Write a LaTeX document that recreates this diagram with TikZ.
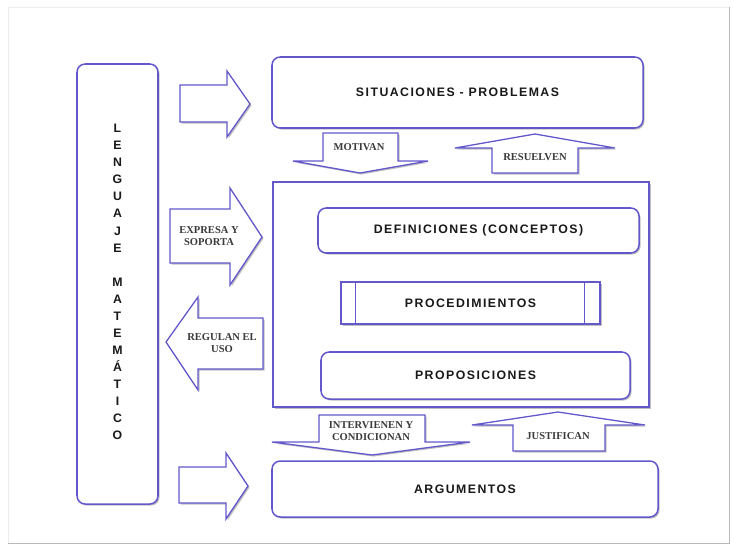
\documentclass[tikz,border=0pt]{standalone}
\usepackage{fontspec}
\setmainfont{Liberation Serif}
\newfontfamily\cajafont[LetterSpace=12]{Liberation Sans}
\newfontfamily\letrafont{Liberation Sans}
\usetikzlibrary{shadows}
\definecolor{borde}{RGB}{98,88,204}
\definecolor{texto}{RGB}{25,25,25}
\tikzset{
	sombra/.style={drop shadow={shadow xshift=1.3pt,shadow yshift=-1.3pt,opacity=.5}},
	caja/.style={draw=borde,line width=1.3pt,fill=white,rounded corners=7pt,sombra,inner sep=0pt,
		font=\cajafont\bfseries\fontsize{10.5}{12}\selectfont,text=texto},
	flecha/.style={draw=borde,line width=1.1pt,fill=white,sombra},
	etiqueta/.style={font=\bfseries\fontsize{9}{10.5}\selectfont,text=texto!85,align=center,inner sep=0pt},
}
\begin{document}
\begin{tikzpicture}[x=0.03cm,y=-0.03cm]
		\useasboundingbox (0,0) rectangle (734,547);
		\draw[gray!15] (8,543) -- (8,7) -- (729,7);
		\draw[gray!55] (8,543) -- (729,543) -- (729,7);
		
		\node[caja,minimum width=2.43cm,minimum height=13.2cm] (leng) at (117.5,284) {};
		\node[font=\letrafont\bfseries\fontsize{10.5}{14.55}\selectfont,text=texto,align=center] (lengtxt) at (117.5,282)
			{L\\E\\N\\G\\U\\A\\J\\E\\[14.55pt]M\\A\\T\\E\\M\\Á\\T\\I\\C\\O};
		
		\node[caja,minimum width=11.13cm,minimum height=2.13cm] (sit) at (457.5,92.5) {SITUACIONES - PROBLEMAS};
		\node[caja,rounded corners=0pt,line width=1pt,minimum width=11.28cm,minimum height=6.75cm] (marco) at (461,294.5) {};
		\node[caja,minimum width=9.63cm,minimum height=1.35cm] (def) at (478.5,230.5) {DEFINICIONES (CONCEPTOS)};
		\node[caja,rounded corners=0pt,line width=1pt,minimum width=7.77cm,minimum height=1.26cm] (proc) at (470.5,303) {PROCEDIMIENTOS};
		\draw[borde,line width=1pt] ([xshift=0.45cm]proc.north west) -- ([xshift=0.45cm]proc.south west);
		\draw[borde,line width=1pt] ([xshift=-0.48cm]proc.north east) -- ([xshift=-0.48cm]proc.south east);
		\node[caja,minimum width=9.27cm,minimum height=1.41cm] (prop) at (475.5,375.5) {PROPOSICIONES};
		\node[caja,minimum width=11.58cm,minimum height=1.68cm] (arg) at (465,489) {ARGUMENTOS};
		
		\draw[flecha] (180,85) -- (227,85) -- (227,71) -- (250,104) -- (227,137) -- (227,122) -- (180,122) -- cycle;
		\draw[flecha] (170,209) -- (230,209) -- (230,188) -- (262,237) -- (230,285) -- (230,263) -- (170,263) -- cycle;
		\draw[flecha] (166,342) -- (198,297) -- (198,318) -- (263,318) -- (263,369) -- (198,369) -- (198,390) -- cycle;
		\draw[flecha] (179,467) -- (226,467) -- (226,453) -- (248,486) -- (226,519) -- (226,503) -- (179,503) -- cycle;
		\draw[flecha] (323,133) -- (398,133) -- (398,161) -- (428,161) -- (360,173) -- (293,161) -- (323,161) -- cycle;
		\draw[flecha] (492,173) -- (492,148) -- (455,148) -- (535,134) -- (615,148) -- (578,148) -- (578,173) -- cycle;
		\draw[flecha] (319,415) -- (425,415) -- (425,442) -- (470,442) -- (372,455) -- (272,442) -- (319,442) -- cycle;
		\draw[flecha] (513,451) -- (513,425) -- (472,425) -- (558,412) -- (645,425) -- (605,425) -- (605,451) -- cycle;
		
		\node[etiqueta] (motivan) at (359,147) {MOTIVAN};
		\node[etiqueta] (resuelven) at (535,157) {RESUELVEN};
		\node[etiqueta] (expresa) at (209,236) {EXPRESA Y\\SOPORTA};
		\node[etiqueta] (regulan) at (222,343) {REGULAN EL\\USO};
		\node[etiqueta] (intervienen) at (371,431) {INTERVIENEN Y\\CONDICIONAN};
		\node[etiqueta] (justifican) at (558,436) {JUSTIFICAN};
	\end{tikzpicture}
\end{document}
